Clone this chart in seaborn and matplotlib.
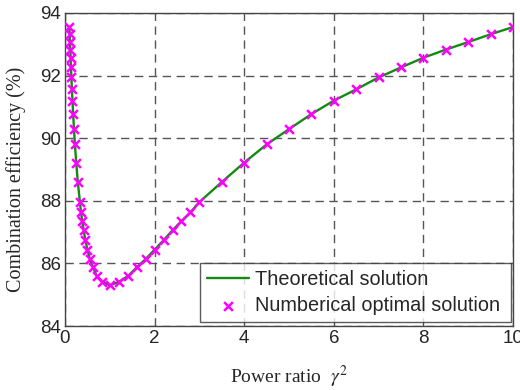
import pandas as pd
import seaborn as sns
import matplotlib.pyplot as plt

# power ratio gamma^2 (x) and combination efficiency in % (y)
gamma_sq = [0.1, 0.105, 0.111, 0.118, 0.125, 0.133, 0.143, 0.154, 0.167, 0.182,
            0.2, 0.222, 0.25, 0.286, 0.333, 0.357, 0.385, 0.417, 0.455, 0.5,
            0.556, 0.625, 0.714, 0.833, 1.0, 1.2, 1.4, 1.6, 1.8, 2.0,
            2.2, 2.4, 2.6, 2.8, 3.0, 3.5, 4.0, 4.5, 5.0, 5.5,
            6.0, 6.5, 7.0, 7.5, 8.0, 8.5, 9.0, 9.5, 10.0]
efficiency = [93.55, 93.32, 93.07, 92.83, 92.57, 92.26, 91.94, 91.56, 91.2, 90.77,
              90.29, 89.8, 89.22, 88.6, 87.96, 87.63, 87.35, 87.06, 86.74, 86.44,
              86.14, 85.87, 85.59, 85.41, 85.3, 85.41, 85.59, 85.87, 86.14, 86.44,
              86.74, 87.06, 87.35, 87.63, 87.96, 88.6, 89.22, 89.8, 90.29, 90.77,
              91.2, 91.56, 91.94, 92.26, 92.57, 92.83, 93.07, 93.32, 93.55]

x_ticks = [0, 2, 4, 6, 8, 10]
y_ticks = [84, 86, 88, 90, 92, 94]

df = pd.DataFrame({'gamma_sq': gamma_sq, 'eff': efficiency})

sns.set_style("white")
plt.rcParams['font.family'] = ['Liberation Sans', 'DejaVu Sans']
plt.rcParams['mathtext.fontset'] = 'stix'

fig = plt.figure(figsize=(5.2, 3.9), dpi=100)
ax = fig.add_axes([0.125, 0.164, 0.8615, 0.8027])

sns.lineplot(data=df, x='gamma_sq', y='eff', ax=ax, color='#138a13', lw=1.7,
             label='Theoretical solution', sort=True)
sns.scatterplot(data=df, x='gamma_sq', y='eff', ax=ax, marker='x', color='#ff00ff',
                s=40, linewidth=1.8, label='Numberical optimal solution', zorder=3)

ax.set_xlim(0, 10)
ax.set_ylim(84, 94)
ax.set_xticks(x_ticks)
ax.set_yticks(y_ticks)
ax.tick_params(labelsize=13.5, direction='in', length=4, color='#444444', pad=3)
ax.grid(True, linestyle=(0, (6, 4)), color='#555555', lw=1)
for s in ax.spines.values():
    s.set_color('#444444')
    s.set_linewidth(1)

ax.set_xlabel(r'Power ratio  $\mathit{\gamma}^2$', family='Liberation Serif',
              fontsize=14, labelpad=12)
ax.set_ylabel('Combination efficiency (%)', family='Liberation Serif', fontsize=14.5)
ax.yaxis.set_label_coords(-0.087, 0.47)

leg = ax.legend(loc='lower right', bbox_to_anchor=(0.302, 0.013, 0.694, 0.185),
                mode='expand', fontsize=14.3, frameon=True, fancybox=False,
                borderaxespad=0, handlelength=2.1, handletextpad=0.3,
                labelspacing=0.35, borderpad=0.35)
leg.get_frame().set_edgecolor('#333333')
leg.get_frame().set_linewidth(1)

fig.savefig('out.png', dpi=100)
